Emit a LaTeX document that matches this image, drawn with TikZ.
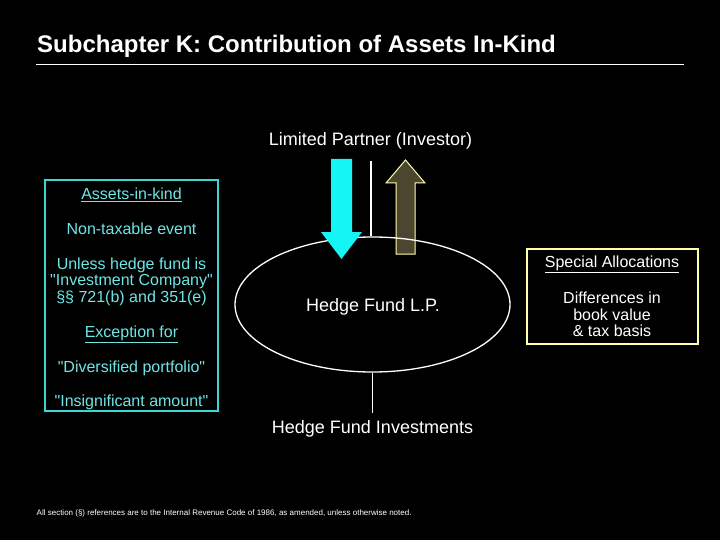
\documentclass[tikz,border=0pt]{standalone}
\usepackage{fontspec}
\setmainfont{Liberation Sans}
\usetikzlibrary{shapes.geometric}
\definecolor{boxcyan}{RGB}{60,215,210}
\definecolor{txtcyan}{RGB}{110,230,230}
\definecolor{arrcyan}{RGB}{20,245,245}
\definecolor{paleyel}{RGB}{255,255,170}
\definecolor{olivefill}{RGB}{75,70,48}
\tikzset{
  wtext/.style={text=white, inner sep=0pt, font=\fontsize{18}{20}\selectfont},
  ctext/.style={text=txtcyan, inner sep=0pt, anchor=base, font=\fontsize{16}{18}\selectfont},
  ytext/.style={text=white, inner sep=0pt, anchor=base, font=\fontsize{16}{18}\selectfont},
  wline/.style={draw=white, line width=1.2pt},
}
\begin{document}
\begin{tikzpicture}[x=1pt,y=-1pt]
\fill[black] (0,0) rectangle (720,540);
\useasboundingbox (0,0) rectangle (720,540);
% title
\node[text=white, inner sep=0pt, anchor=base west, font=\bfseries\fontsize{24}{26}\selectfont] (title) at (37,53) {Subchapter K: Contribution of Assets In-Kind};
\coordinate (rl) at (36,64);
\coordinate (rr) at (684,64);
\draw[white, line width=0.8pt] (rl) -- (rr);
% limited partner
\node[wtext, anchor=base] (lp) at (370.5,146) {Limited Partner (Investor)};
% olive up arrow (behind ellipse outline)
\filldraw[fill=olivefill, draw=paleyel, line width=1pt] (396,254) -- (415,254) -- (415,183) -- (425,183) -- (405.5,160) -- (386,183) -- (396,183) -- cycle;
% ellipse
\node[ellipse, draw=white, line width=1.3pt, minimum width=275pt, minimum height=135pt, inner sep=0pt] (hf) at (372.5,304.5) {};
\node[wtext, anchor=base] (hflabel) at (373,311) {Hedge Fund L.P.};
\coordinate (lptop) at (371,161);
\draw[wline] (lptop) -- (lptop |- hf.north);
% hedge fund investments
\node[wtext, anchor=base] (hfi) at (372.5,433) {Hedge Fund Investments};
\coordinate (hfib) at (372.5,413);
\draw[wline] (hf.south) -- (hfib);
% cyan down arrow
\fill[arrcyan] (331,159) -- (352,159) -- (352,232) -- (362,232) -- (341.5,259) -- (321,232) -- (331,232) -- cycle;
% left box
\node[draw=boxcyan, line width=1.5pt, minimum width=173pt, minimum height=231pt, inner sep=0pt] (lbox) at (131.5,295.5) {};
\node[ctext] (l1) at (131.5,200) {\underline{Assets-in-kind}};
\node[ctext] (l2) at (131.5,234) {Non-taxable event};
\node[ctext] (l3) at (131.5,269) {Unless hedge fund is};
\node[ctext] (l4) at (131.5,285.5) {\textquotedbl Investment Company\textquotedbl};
\node[ctext] (l5) at (131.5,302) {§§ 721(b) and 351(e)};
\node[ctext] (l6) at (131.5,337.5) {\underline{Exception for}};
\node[ctext] (l7) at (131.5,372) {\textquotedbl Diversified portfolio\textquotedbl};
\node[ctext] (l8) at (131.5,406) {\textquotedbl Insignificant amount\textquotedbl};
% right box
\node[draw=paleyel, line width=1.5pt, minimum width=171pt, minimum height=95pt, inner sep=0pt] (rbox) at (612.5,296.5) {};
\node[ytext] (r1) at (612,267.3) {\underline{Special Allocations}};
\node[ytext] (r2) at (612,303.3) {Differences in};
\node[ytext] (r3) at (612,320) {book value};
\node[ytext] (r4) at (612,336.7) {\& tax basis};
% footer
\node[text=white, inner sep=0pt, anchor=base west, font=\fontsize{8}{9}\selectfont] (foot) at (36.5,515) {All section (§) references are to the Internal Revenue Code of 1986, as amended, unless otherwise noted.};
\end{tikzpicture}
\end{document}
